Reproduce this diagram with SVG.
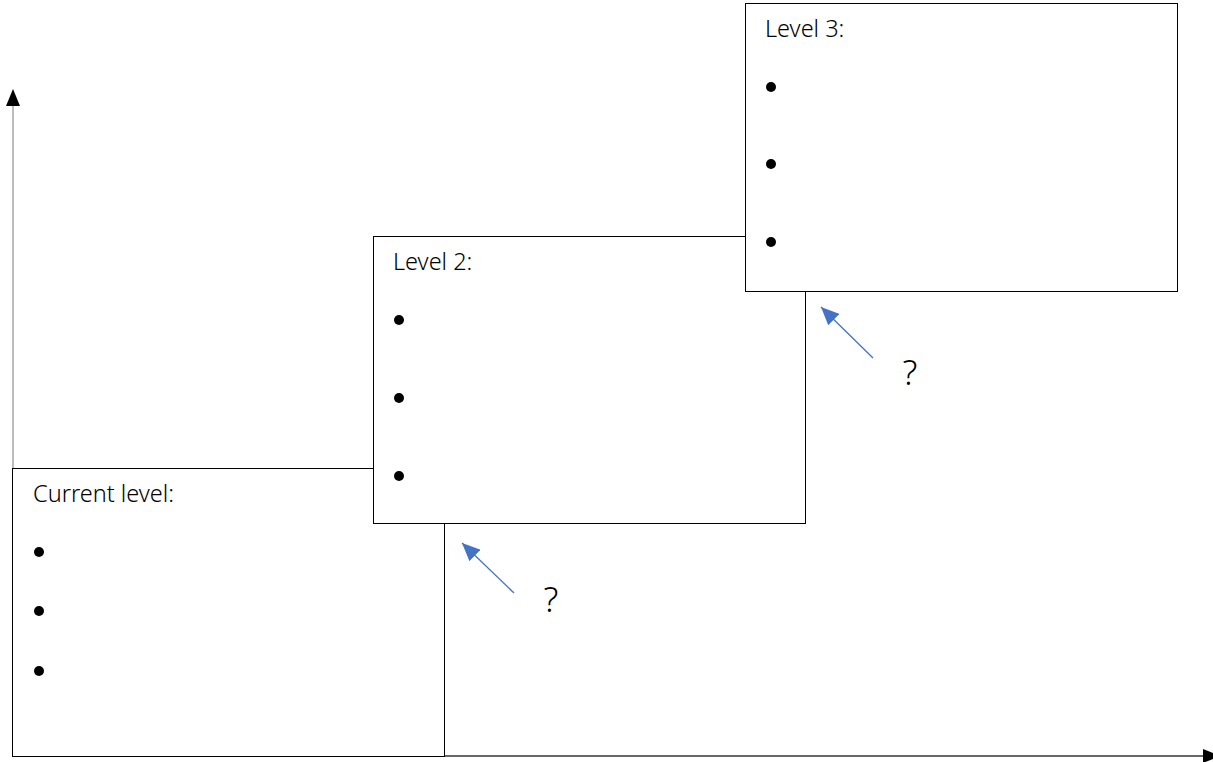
<svg xmlns="http://www.w3.org/2000/svg" width="1213" height="762" viewBox="0 0 1213 762">
<style>
.box{fill:#fff;stroke:#000;stroke-width:1}
.t{font-family:"Noto Sans",sans-serif;font-size:23.5px;font-weight:300;fill:#000}
.q{font-family:"Noto Sans",sans-serif;font-size:35px;font-weight:300;fill:#000}
.b{fill:#000}
.ax{stroke-width:1.3;fill:none}
.ar{stroke:#4472C4;stroke-width:1.3;fill:none}
</style>
<defs>
<marker id="bh" markerWidth="20" markerHeight="16" refX="18" refY="8" orient="auto" markerUnits="userSpaceOnUse">
<path d="M0,0 L18,8 L0,16 Z" fill="#4472C4"/>
</marker>
</defs>
<g id="axes">
<line class="ax" x1="13" y1="756" x2="13" y2="100" stroke="#999"/>
<path d="M13,89 L6,106 L20,106 Z" fill="#000"/>
<line class="ax" x1="13" y1="756" x2="1203" y2="756" stroke="#333"/>
<path d="M1220,756 L1203,749 L1203,763 Z" fill="#000"/>
</g>
<g id="node-current">
<rect class="box" x="12.5" y="468.5" width="432" height="288"/>
<text class="t" x="33" y="502">Current level:</text>
<circle class="b" cx="39" cy="552" r="5"/>
<circle class="b" cx="39" cy="611" r="5"/>
<circle class="b" cx="39" cy="671" r="5"/>
</g>
<g id="node-level2">
<rect class="box" x="373.5" y="236.5" width="432" height="287"/>
<text class="t" x="393" y="270">Level 2:</text>
<circle class="b" cx="399" cy="320" r="5"/>
<circle class="b" cx="399" cy="398" r="5"/>
<circle class="b" cx="399" cy="476" r="5"/>
</g>
<g id="node-level3">
<rect class="box" x="745.5" y="3.5" width="432" height="288"/>
<text class="t" x="765" y="37">Level 3:</text>
<circle class="b" cx="771" cy="87" r="5"/>
<circle class="b" cx="771" cy="164" r="5"/>
<circle class="b" cx="771" cy="242" r="5"/>
</g>
<g id="connectors">
<line class="ar" x1="514" y1="593" x2="462" y2="543" marker-end="url(#bh)"/>
<line class="ar" x1="873" y1="358" x2="821" y2="307" marker-end="url(#bh)"/>
</g>
<text class="q" x="551" y="612" text-anchor="middle">?</text>
<text class="q" x="910" y="385" text-anchor="middle">?</text>
</svg>
